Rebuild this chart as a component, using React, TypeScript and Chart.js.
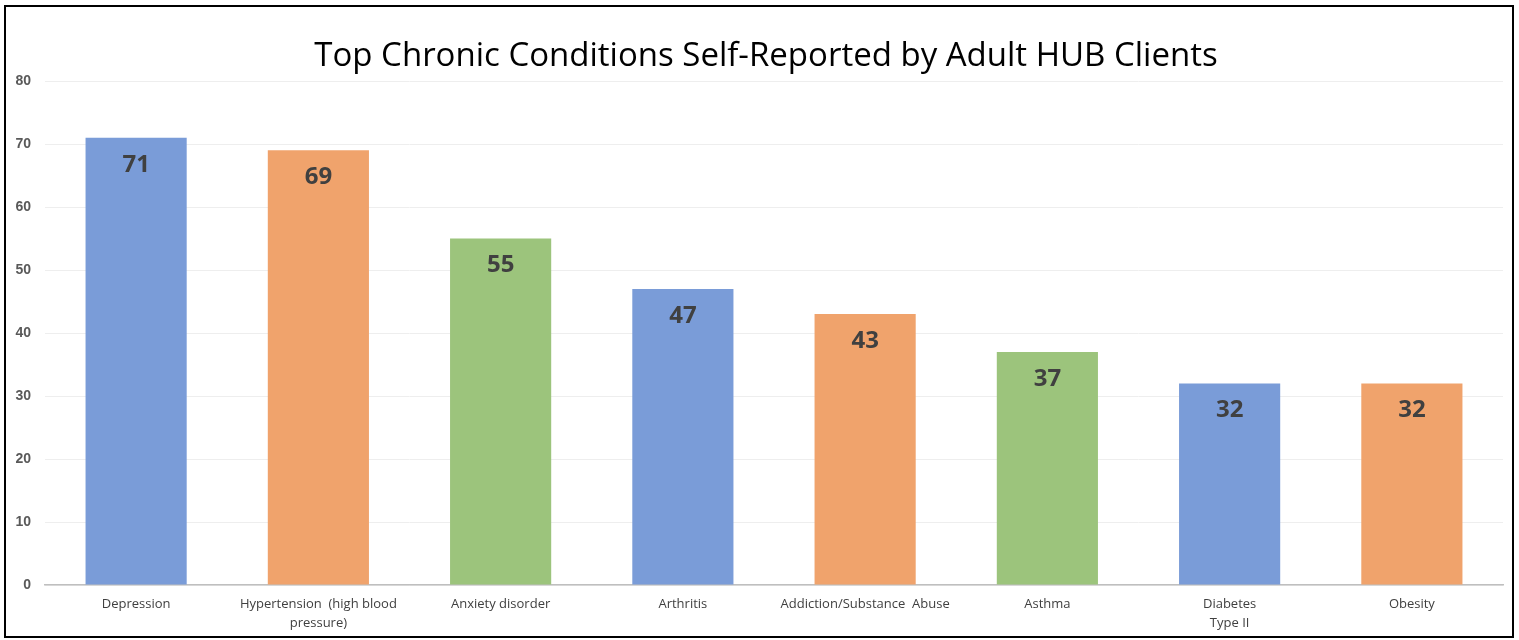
import React, { useEffect, useRef } from "react";
import { Chart, registerables } from "chart.js";

Chart.register(...registerables);

const categories: (string | string[])[] = [
  "Depression",
  ["Hypertension  (high blood", "pressure)"],
  "Anxiety disorder",
  "Arthritis",
  "Addiction/Substance  Abuse",
  "Asthma",
  ["Diabetes", "Type II"],
  "Obesity",
];
const values: number[] = [71, 69, 55, 47, 43, 37, 32, 32];
const barColors: string[] = [
  "#7A9CD8",
  "#F0A36C",
  "#9CC47C",
  "#7A9CD8",
  "#F0A36C",
  "#9CC47C",
  "#7A9CD8",
  "#F0A36C",
];
const yTicks: number[] = [0, 10, 20, 30, 40, 50, 60, 70, 80];
const titleText = "Top Chronic Conditions Self-Reported by Adult HUB Clients";

const valueLabels = {
  id: "valueLabels",
  afterDatasetsDraw(chart: any) {
    const ctx = chart.ctx;
    const meta = chart.getDatasetMeta(0);
    ctx.save();
    ctx.font = "bold 24px 'Open Sans'";
    ctx.fillStyle = "#404040";
    ctx.textAlign = "center";
    ctx.textBaseline = "middle";
    meta.data.forEach((bar: any, i: number) => {
      ctx.fillText(String(values[i]), bar.x, bar.y + 27);
    });
    ctx.restore();
  },
};

const chartTitle = {
  id: "chartTitle",
  afterDraw(chart: any) {
    const ctx = chart.ctx;
    ctx.save();
    ctx.font = "33px 'Open Sans'";
    ctx.fillStyle = "#000000";
    ctx.textAlign = "center";
    ctx.textBaseline = "middle";
    ctx.fillText(titleText, chart.width / 2 + 7, 50);
    ctx.restore();
  },
};

export default function App() {
  const ref = useRef<HTMLCanvasElement | null>(null);
  useEffect(() => {
    if (!ref.current) return;
    const chart = new Chart(ref.current, {
      type: "bar",
      data: {
        labels: categories,
        datasets: [
          {
            data: values,
            backgroundColor: barColors,
            categoryPercentage: 0.555,
            barPercentage: 1,
          },
        ],
      },
      options: {
        animation: false,
        responsive: false,
        layout: { padding: { left: 0, right: 9, top: 74, bottom: 0 } },
        plugins: {
          legend: { display: false },
          tooltip: { enabled: false },
          title: { display: false },
        },
        scales: {
          x: {
            grid: { display: false, drawTicks: false },
            border: { color: "#BFBFBF", width: 1.5 },
            afterFit(scale: any) {
              scale.height = 51;
            },
            ticks: {
              color: "#404040",
              font: { family: "'Open Sans'", size: 13, lineHeight: 1.45 },
              maxRotation: 0,
              autoSkip: false,
              padding: 10,
            },
          },
          y: {
            min: 0,
            max: 80,
            afterBuildTicks(scale: any) {
              scale.ticks = yTicks.map((v) => ({ value: v }));
            },
            afterFit(scale: any) {
              scale.width = 39;
            },
            grid: { color: "#EEEEEE", drawTicks: false },
            border: { display: false },
            ticks: {
              color: "#595959",
              font: { family: "'Liberation Sans'", size: 14, weight: "bold" },
              padding: 14,
            },
          },
        },
      },
      plugins: [valueLabels, chartTitle],
    });
    return () => chart.destroy();
  }, []);
  return (
    <div
      style={{
        position: "absolute",
        left: 4,
        top: 5,
        width: 1506,
        height: 629,
        border: "2px solid #000",
        background: "#fff",
      }}
    >
      <canvas ref={ref} width={1506} height={629} style={{ display: "block" }} />
    </div>
  );
}
